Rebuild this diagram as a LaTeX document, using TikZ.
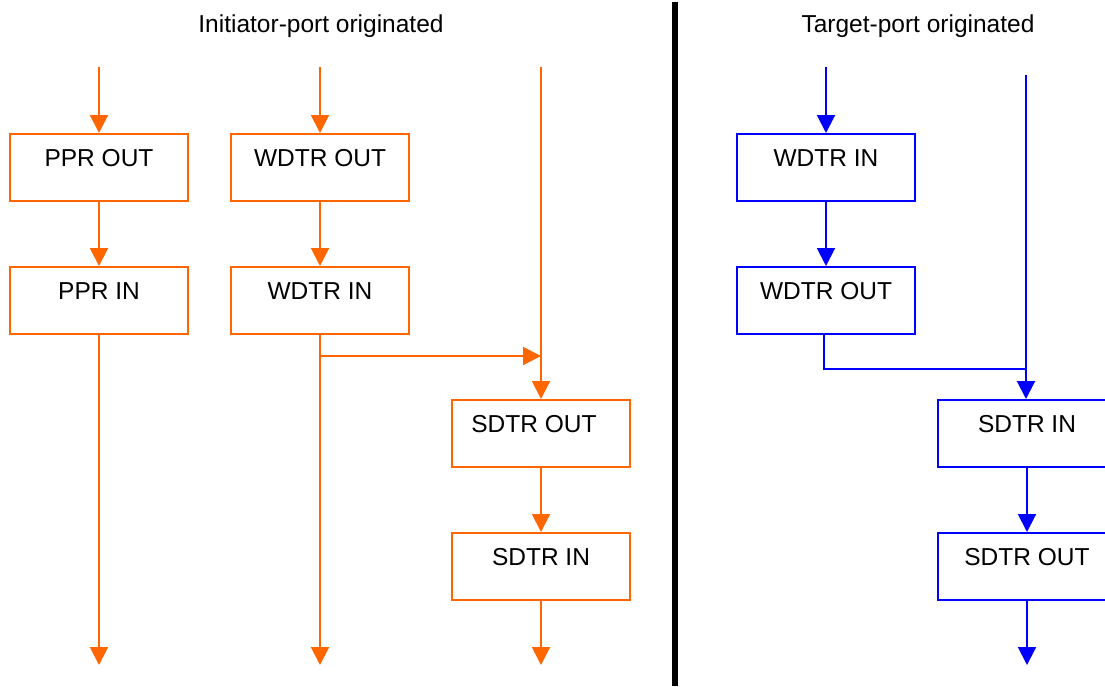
\documentclass[tikz,border=0pt]{standalone}
\usepackage{fontspec}
\setmainfont{Liberation Sans}
\usetikzlibrary{arrows.meta}
\definecolor{orng}{HTML}{FF6600}
\definecolor{blu}{HTML}{0000FF}
\begin{document}
\begin{tikzpicture}[x=1pt,y=-1pt,
  box/.style={draw,line width=2pt,minimum width=178pt,minimum height=67pt,inner sep=0pt},
  obox/.style={box,draw=orng},
  bbox/.style={box,draw=blu},
  lbl/.style={font=\fontsize{24.5}{28}\selectfont,inner sep=0pt,anchor=base},
  ttl/.style={font=\fontsize{24.5}{28}\selectfont,inner sep=0pt,anchor=base},
  oln/.style={draw=orng,line width=2pt},
  bln/.style={draw=blu,line width=2pt},
  oarr/.style={oln,-{Triangle[width=18pt,length=18pt]},orng},
  barr/.style={bln,-{Triangle[width=18pt,length=18pt]},blu}]
\useasboundingbox (0,0) rectangle (1105,686);
\clip (0,0) rectangle (1105,686);

% titles
\node[ttl] (t1) at (321,32) {Initiator-port originated};
\node[ttl] (t2) at (918,32) {Target-port originated};

% divider
\coordinate (d1) at (675,2);
\coordinate (d2) at (675,686);
\draw[line width=6pt,black] (d1) -- (d2);

% orange column 1
\coordinate (o1top) at (99,67);
\node[obox] (pprout) at (99,167.5) {};
\node[obox] (pprin) at (99,300.5) {};
\coordinate (o1bot) at (99,665);
\node[lbl] (l1) at ([yshift=-33pt]pprout.north) {PPR OUT};
\node[lbl] (l2) at ([yshift=-33pt]pprin.north) {PPR IN};
\draw[oarr] (o1top) -- (pprout.north);
\draw[oarr] (pprout.south) -- (pprin.north);
\draw[oarr] (pprin.south) -- (o1bot);

% orange column 2
\coordinate (o2top) at (320,67);
\node[obox] (wdout) at (320,167.5) {};
\node[obox] (wdin) at (320,300.5) {};
\coordinate (o2bot) at (320,665);
\coordinate (o2br) at (320,356);
\node[lbl] (l3) at ([yshift=-33pt]wdout.north) {WDTR OUT};
\node[lbl] (l4) at ([yshift=-33pt]wdin.north) {WDTR IN};
\draw[oarr] (o2top) -- (wdout.north);
\draw[oarr] (wdout.south) -- (wdin.north);
\draw[oarr] (wdin.south) -- (o2bot);

% orange column 3
\coordinate (o3top) at (541,67);
\coordinate (o3j) at (541,356);
\node[obox] (sdout) at (541,433.5) {};
\node[obox] (sdin) at (541,566.5) {};
\coordinate (o3bot) at (541,665);
\node[lbl] (l5) at ([yshift=-33pt,xshift=-7pt]sdout.north) {SDTR OUT};
\node[lbl] (l6) at ([yshift=-33pt]sdin.north) {SDTR IN};
\draw[oln] (o3top) -- (o3j);
\draw[oarr] (o3j) -- (sdout.north);
\draw[oarr] (o2br) -- (o3j);
\draw[oarr] (sdout.south) -- (sdin.north);
\draw[oarr] (sdin.south) -- (o3bot);

% blue column 1
\coordinate (b1top) at (826,67);
\node[bbox] (bwdin) at (826,167.5) {};
\node[bbox] (bwdout) at (826,300.5) {};
\node[lbl] (l7) at ([yshift=-33pt]bwdin.north) {WDTR IN};
\node[lbl] (l8) at ([yshift=-33pt]bwdout.north) {WDTR OUT};
\draw[barr] (b1top) -- (bwdin.north);
\draw[barr] (bwdin.south) -- (bwdout.north);

% blue column 2
\coordinate (b2top) at (1026,75);
\coordinate (b2j) at (1026,369);
\node[bbox] (bsdin) at (1027,433.5) {};
\node[bbox] (bsdout) at (1027,566.5) {};
\coordinate (b2bot) at (1026,665);
\node[lbl] (l9) at ([yshift=-33pt]bsdin.north) {SDTR IN};
\node[lbl] (l10) at ([yshift=-33pt]bsdout.north) {SDTR OUT};
\draw[bln] ([xshift=-2pt]bwdout.south) |- (b2j);
\draw[barr] (b2top) -- (b2top |- bsdin.north);
\draw[barr] (bsdin.south) -- (bsdout.north);
\draw[barr] (bsdout.south) -- (b2bot -| bsdout.south);
\end{tikzpicture}
\end{document}
